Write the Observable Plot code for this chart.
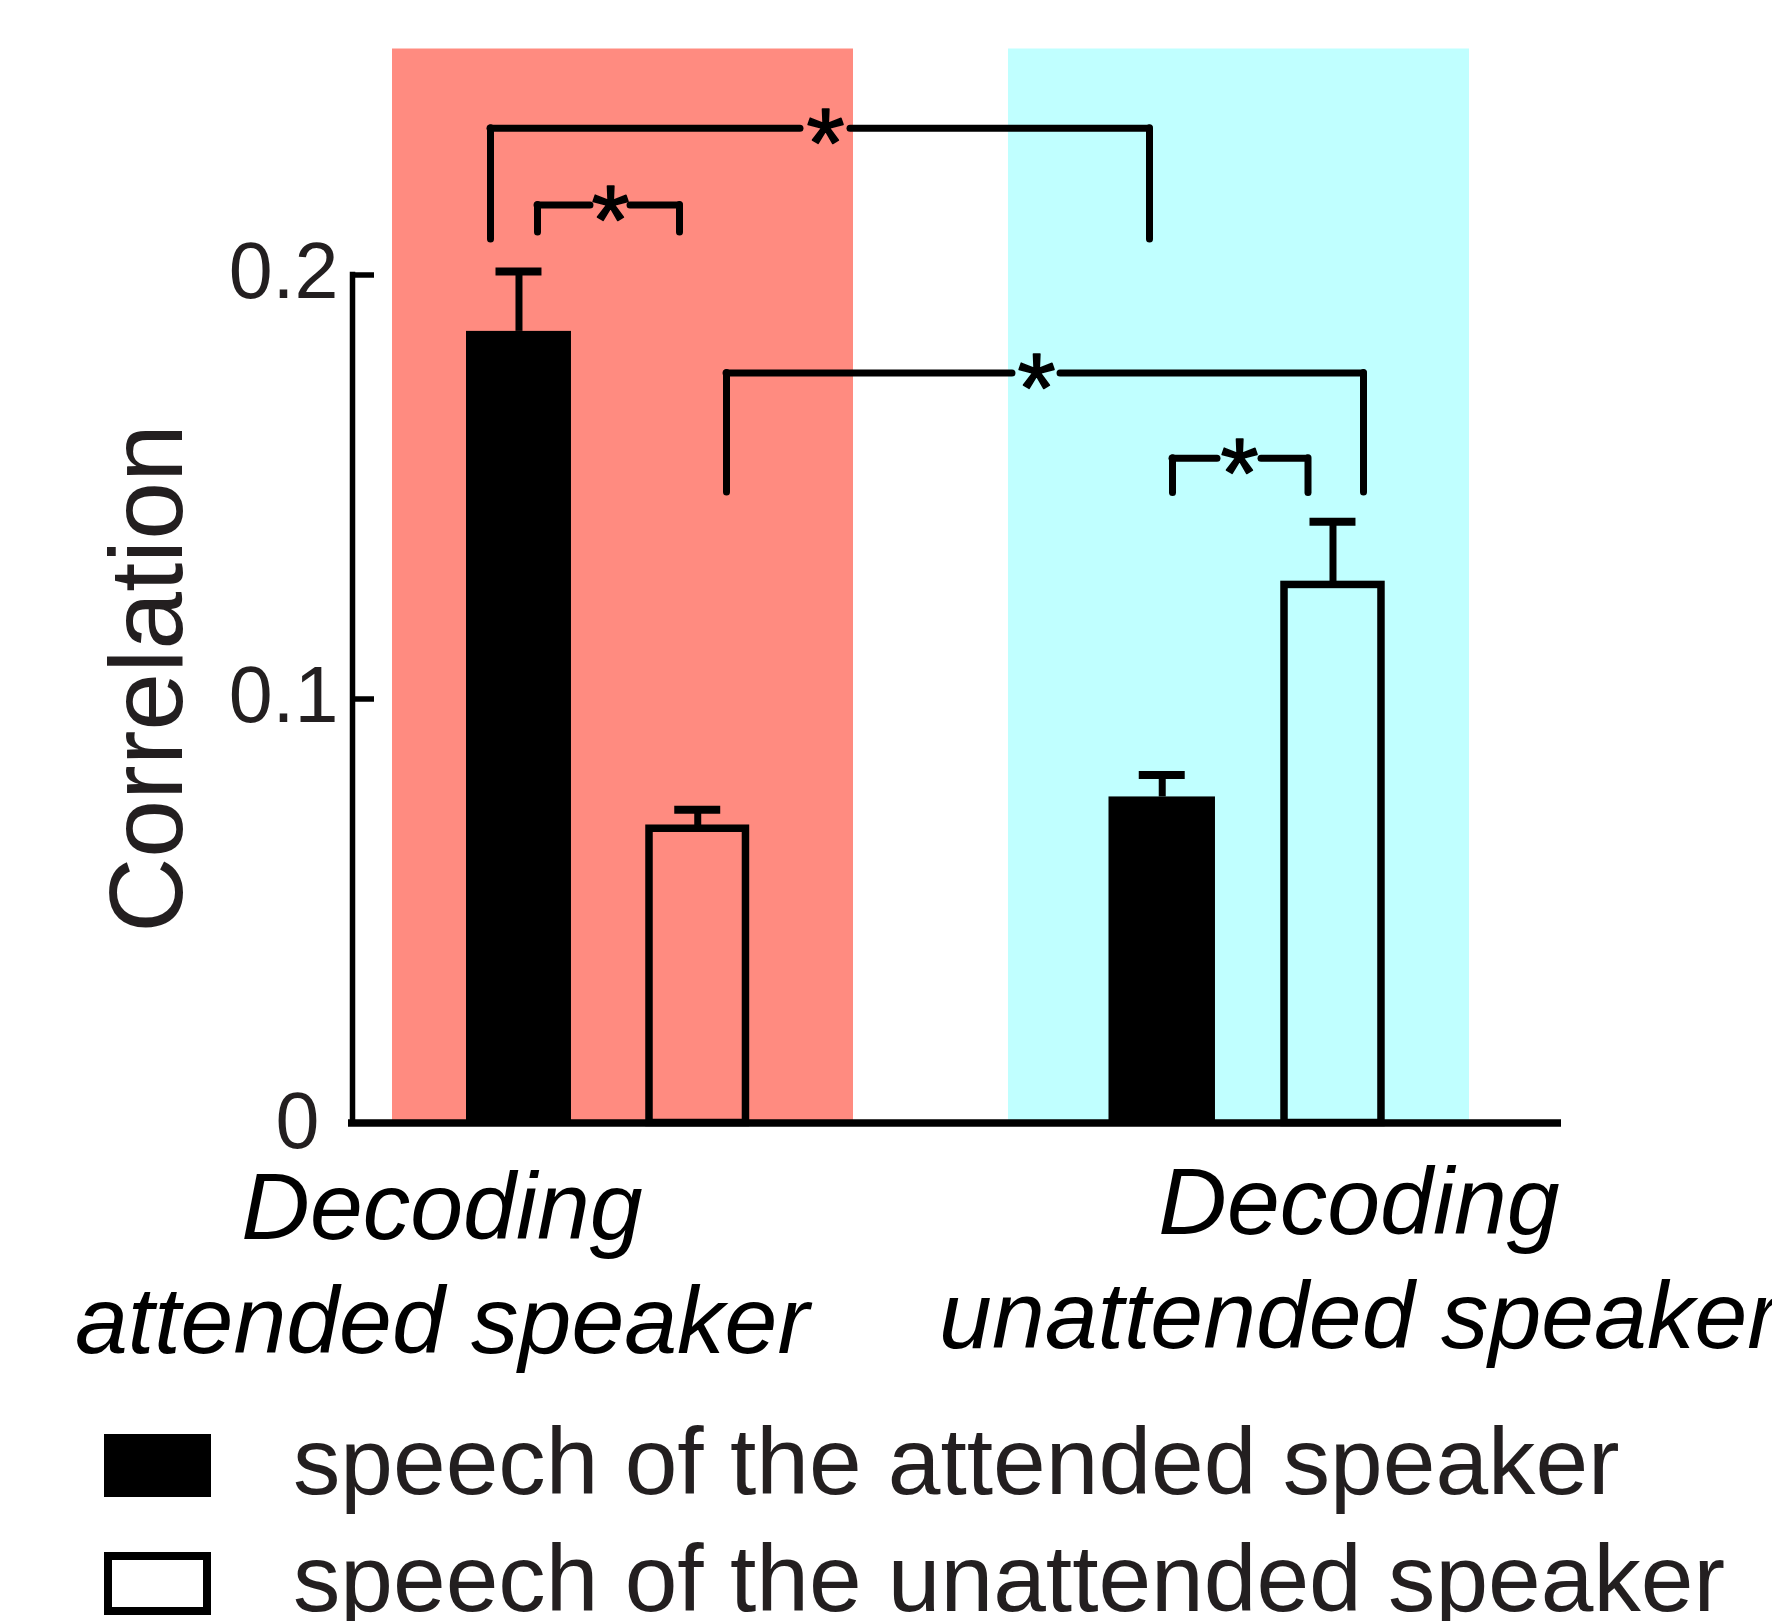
<!DOCTYPE html>
<html>
<head>
<meta charset="utf-8">
<script src="https://cdn.jsdelivr.net/npm/d3@7"></script>
<script src="https://cdn.jsdelivr.net/npm/@observablehq/plot@0.6"></script>
<style>
  html, body { margin: 0; padding: 0; background: #fff; overflow: hidden; width: 1772px; height: 1621px; }
  #wrap { position: relative; width: 1772px; height: 1621px; font-family: "Liberation Sans", Arial, sans-serif; }
  #chart svg { display: block; }
  .lg-sw { position: absolute; box-sizing: border-box; }
  .lg-tx { position: absolute; font-size: 94.7px; line-height: 1; white-space: nowrap; color: #231f20; }
</style>
</head>
<body>
<div id="wrap"><div id="chart"></div><div id="legend"></div></div>
<script>
// ---------------- data ----------------
const groups = ["attended", "unattended"];
const groupLabels = ["Decoding\nattended speaker", "Decoding\nunattended speaker"];
const seriesKeys = ["attendedSpeech", "unattendedSpeech"];
const seriesLabels = ["speech of the attended speaker", "speech of the unattended speaker"];
const meanAttendedSpeech = [0.1867, 0.0769];
const semAttendedSpeech = [0.0141, 0.0052];
const meanUnattendedSpeech = [0.0694, 0.1269];
const semUnattendedSpeech = [0.0045, 0.0149];
const yTicks = [0, 0.1, 0.2];
const yTickLabels = ["0", "0.1", "0.2"];
const yLabel = "Correlation";
// significance brackets: compared bars, bracket height, leg bottom (correlation units)
const bracketLeft = [["attended", "attendedSpeech"], ["attended", "attendedSpeech"], ["attended", "unattendedSpeech"], ["unattended", "attendedSpeech"]];
const bracketRight = [["unattended", "attendedSpeech"], ["attended", "unattendedSpeech"], ["unattended", "unattendedSpeech"], ["unattended", "unattendedSpeech"]];
const bracketTop = [0.2346, 0.2165, 0.1769, 0.1568];
const bracketLeg = [0.2084, 0.2100, 0.1487, 0.1486];
const bracketMark = ["*", "*", "*", "*"];

// ---------------- layout (pixels) ----------------
const W = 1772, H = 1400;
const M = {top: 48.5, right: 211, bottom: 277.5, left: 352};
const FW = W - M.left - M.right;
const xOpts = {domain: groups, paddingInner: 0.2516, paddingOuter: 0.1071, align: 0.303};
const xs = Plot.scale({x: {type: "band", ...xOpts, range: [M.left, W - M.right]}});
const BW = xs.bandwidth;
const centerA = xs.apply(groups[0]) + BW / 2;
// bar extents inside each band (from band start)
const barBox = {
  attended: {attendedSpeech: [74, 179], unattendedSpeech: [257, 353.5]},
  unattended: {attendedSpeech: [100.5, 207], unattendedSpeech: [276, 373]}
};
// bracket geometry offsets (px from band centre): [left leg group, dx], [right leg group, dx], [star group, dx], gap
const bracketGeom = [
  {l: ["attended", -132.5], r: ["unattended", -89.5], s: ["attended", 202.5], gap: 25},
  {l: ["attended", -85.5], r: ["attended", 56.5], s: ["attended", -12.5], gap: 20},
  {l: ["attended", 103.5], r: ["unattended", 124.5], s: ["unattended", -202.5], gap: 24},
  {l: ["unattended", -66.5], r: ["unattended", 69], s: ["unattended", 0.5], gap: 22}
];
const PINK = "#ff8b80", CYAN = "#c0ffff", INK = "#000", TXT = "#231f20";

// ---------------- table ----------------
const rows = groups.flatMap((g, i) => [
  {group: g, series: seriesKeys[0], mean: meanAttendedSpeech[i], sem: semAttendedSpeech[i]},
  {group: g, series: seriesKeys[1], mean: meanUnattendedSpeech[i], sem: semUnattendedSpeech[i]}
]);
const brackets = bracketTop.map((t, i) => ({top: t, leg: bracketLeg[i], mark: bracketMark[i], from: bracketLeft[i], to: bracketRight[i], geom: bracketGeom[i]}));

const marks = [];
// background bands
marks.push(Plot.cell([groups[0]], {x: d => d, fill: PINK, inset: 0}));
marks.push(Plot.cell([groups[1]], {x: d => d, fill: CYAN, inset: 0}));

// bars + error bars
for (const r of rows) {
  const [a, b] = barBox[r.group][r.series];
  const filled = r.series === seriesKeys[0];
  marks.push(Plot.barY([r], {
    x: "group", y: "mean", insetLeft: a, insetRight: BW - b,
    fill: filled ? INK : "none", stroke: filled ? null : INK, strokeWidth: filled ? 0 : 7.5
  }));
  const c = (a + b) / 2;
  marks.push(Plot.ruleX([r], {x: "group", y1: "mean", y2: d => d.mean + d.sem, dx: c - BW / 2, stroke: INK, strokeWidth: 7}));
  marks.push(Plot.tickY([r], {x: "group", y: d => d.mean + d.sem, insetLeft: c - 23, insetRight: BW - c - 23, stroke: INK, strokeWidth: 8}));
}

// axes
marks.push(Plot.ruleY([yTicks[0]], {stroke: INK, strokeWidth: 7.5, insetLeft: -4}));
marks.push(Plot.ruleX([yTicks[yTicks.length - 1]], {x: () => groups[0], y1: () => yTicks[0], y2: d => d, dx: M.left - centerA, stroke: INK, strokeWidth: 5.5, strokeLinecap: "square"}));
marks.push(Plot.ruleY(yTicks.slice(1), {insetRight: FW - 22, stroke: INK, strokeWidth: 5.5}));
marks.push(Plot.text(yTicks.slice(1), {y: d => d, text: d => yTickLabels[yTicks.indexOf(d)], frameAnchor: "left", textAnchor: "end", dx: -14, dy: -2, fontSize: 79, fill: TXT}));
marks.push(Plot.text(yTicks.slice(0, 1), {y: d => d, text: d => yTickLabels[yTicks.indexOf(d)], frameAnchor: "left", textAnchor: "end", dx: -33, fontSize: 79, fill: TXT}));
marks.push(Plot.text([yLabel], {frameAnchor: "left", rotate: -90, textAnchor: "middle", lineAnchor: "bottom", dx: 181 - M.left, dy: 92.5, fontSize: 104, fill: TXT}));

// group labels
const labelShift = [[-181, 229.5], [120, 224.5]];
groups.forEach((g, i) => {
  marks.push(Plot.text([g], {
    x: d => d, text: () => groupLabels[i], frameAnchor: "bottom", lineAnchor: "bottom",
    lineHeight: 1.19, fontStyle: "italic", fontSize: 95, fill: INK,
    dx: labelShift[i][0], dy: labelShift[i][1]
  }));
});

// significance brackets
for (const br of brackets) {
  const {l, r, s, gap} = br.geom;
  const bs = {stroke: INK, strokeWidth: 7, strokeLinecap: "round"};
  marks.push(Plot.ruleX([br], {x: () => l[0], y1: "leg", y2: "top", dx: l[1], ...bs}));
  marks.push(Plot.ruleX([br], {x: () => r[0], y1: "leg", y2: "top", dx: r[1], ...bs}));
  marks.push(Plot.ruleY([br], {x1: () => l[0], x2: () => s[0], y: "top", insetLeft: BW / 2 + l[1], insetRight: BW / 2 - s[1] + gap, ...bs}));
  marks.push(Plot.ruleY([br], {x1: () => s[0], x2: () => r[0], y: "top", insetLeft: BW / 2 + s[1] + gap, insetRight: BW / 2 - r[1], ...bs}));
  marks.push(Plot.text([br], {x: () => s[0], y: "top", text: "mark", dx: s[1], dy: 49, lineAnchor: "bottom", fontSize: 98, fill: INK, stroke: INK, strokeWidth: 1.5}));
}

const chart = Plot.plot({
  width: W, height: H,
  marginTop: M.top, marginRight: M.right, marginBottom: M.bottom, marginLeft: M.left,
  x: {...xOpts, axis: null},
  y: {domain: [0, 0.2533], axis: null},
  style: {fontFamily: '"Liberation Sans", Arial, sans-serif', background: "transparent", overflow: "visible"},
  marks
});
document.getElementById("chart").appendChild(chart);

// legend (HTML below the plot)
const legend = document.getElementById("legend");
const swTop = [1434, 1552];
const baseline = [1494.5, 1611.5];
seriesLabels.forEach((lab, i) => {
  const sw = document.createElement("div");
  sw.className = "lg-sw";
  Object.assign(sw.style, {left: "103.5px", top: swTop[i] + "px", width: "107px", height: "63px",
    background: i === 0 ? INK : "#fff", border: i === 0 ? "none" : "8px solid " + INK});
  legend.appendChild(sw);
  const tx = document.createElement("div");
  tx.className = "lg-tx";
  tx.textContent = lab;
  Object.assign(tx.style, {left: "293px", top: (baseline[i] - 0.8465 * 94.7) + "px"});
  legend.appendChild(tx);
});
</script>
</body>
</html>
